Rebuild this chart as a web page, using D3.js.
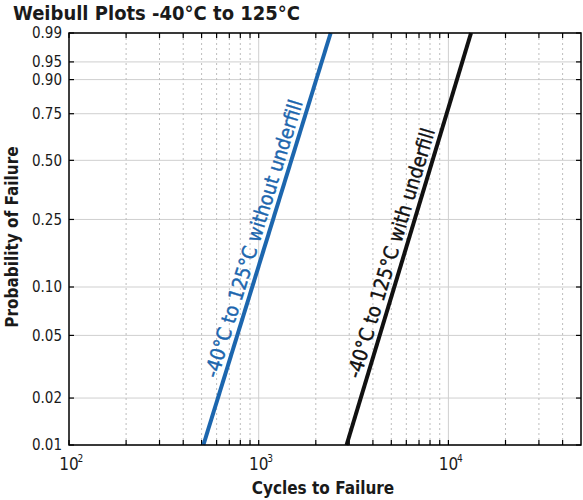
<!DOCTYPE html>
<html>
<head>
<meta charset="utf-8">
<script src="https://cdn.jsdelivr.net/npm/d3@7"></script>
<style>
  body { margin: 0; background: #fff; }
  text { font-family: 'Liberation Sans Narrow', 'DejaVu Sans Condensed', 'Roboto Condensed', sans-serif; fill: #1a1a1a; }
</style>
</head>
<body>
<div class="weibull"></div>
<script>
  // probability ticks on the weibull axis
  var probTicks = [0.01, 0.02, 0.05, 0.10, 0.25, 0.50, 0.75, 0.90, 0.95, 0.99];
  var decades = [100, 1000, 10000];
  var decadeExp = [2, 3, 4];
  var minorCycles = [200, 300, 400, 500, 600, 700, 800, 900,
                     2000, 3000, 4000, 5000, 6000, 7000, 8000, 9000,
                     20000, 30000, 40000];

  // end points: [cycles, probability]
  var withoutUnderfill = [[511, 0.01], [2395, 0.99]];
  var withUnderfill = [[2905, 0.01], [13160, 0.99]];
  var seriesLabels = ["-40°C to 125°C without underfill", "-40°C to 125°C with underfill"];
  var seriesColors = ["#1c66ae", "#111111"];

  var margin = {top: 33, right: 2, bottom: 55, left: 69};
  var width = 583 - margin.left - margin.right,
      height = 500 - margin.top - margin.bottom;

  var weib = function(p) { return Math.log(-Math.log(1 - p)); };

  var xScale = d3.scaleLog()
      .domain([100, 50000])
      .range([0, width]);

  var yLin = d3.scaleLinear()
      .domain([weib(0.01), weib(0.99)])
      .range([height, 0]);
  var yScale = function(p) { return yLin(weib(p)); };

  var svg = d3.select('.weibull')
      .append("svg")
      .attr("width", 583)
      .attr("height", 500);

  svg.append("text")
      .attr("x", 13)
      .attr("y", 20)
      .attr("font-size", 20)
      .attr("font-weight", "bold")
      .text("Weibull Plots -40°C to 125°C");

  var g = svg.append("g")
      .attr("transform", "translate(" + margin.left + "," + margin.top + ")");

  // grid
  g.selectAll('.hgrid')
      .data(probTicks)
      .enter().append('line')
      .attr('x1', 0).attr('x2', width)
      .attr('y1', yScale).attr('y2', yScale)
      .attr('stroke', '#cfcfcf').attr('stroke-width', 1);

  g.selectAll('.vminor')
      .data(minorCycles)
      .enter().append('line')
      .attr('x1', xScale).attr('x2', xScale)
      .attr('y1', 0).attr('y2', height)
      .attr('stroke', '#bdbdbd').attr('stroke-width', 1)
      .attr('stroke-dasharray', '2,3');

  g.selectAll('.vmajor')
      .data(decades.slice(1))
      .enter().append('line')
      .attr('x1', xScale).attr('x2', xScale)
      .attr('y1', 0).attr('y2', height)
      .attr('stroke', '#cfcfcf').attr('stroke-width', 1);

  // inward ticks
  var tickLen = 5;
  var allX = decades.concat(minorCycles);
  [0, height].forEach(function(yy) {
      g.selectAll(null)
          .data(allX)
          .enter().append('line')
          .attr('x1', xScale).attr('x2', xScale)
          .attr('y1', yy).attr('y2', yy === 0 ? tickLen : height - tickLen)
          .attr('stroke', '#000').attr('stroke-width', 1.2);
  });
  [0, width].forEach(function(xx) {
      g.selectAll(null)
          .data(probTicks)
          .enter().append('line')
          .attr('y1', yScale).attr('y2', yScale)
          .attr('x1', xx).attr('x2', xx === 0 ? tickLen : width - tickLen)
          .attr('stroke', '#000').attr('stroke-width', 1.2);
  });

  // y tick labels
  g.selectAll('.ylab')
      .data(probTicks)
      .enter().append('text')
      .attr('x', -7)
      .attr('y', yScale)
      .attr('dy', '0.35em')
      .attr('text-anchor', 'end')
      .attr('font-size', 15)
      .text(function(d) { return d3.format('.2f')(d); });

  // x tick labels 10^n
  var xl = g.selectAll('.xlab')
      .data(decades)
      .enter().append('g')
      .attr('transform', function(d) { return 'translate(' + xScale(d) + ',' + (height + 25) + ')'; });
  xl.append('text')
      .attr('text-anchor', 'middle')
      .attr('font-size', 17)
      .text('10');
  xl.append('text')
      .attr('x', 8.5)
      .attr('y', -8)
      .attr('font-size', 10)
      .text(function(d, i) { return decadeExp[i]; });

  // weibull lines
  var line = d3.line()
      .x(function(d) { return xScale(d[0]); })
      .y(function(d) { return yScale(d[1]); });

  var series = [withoutUnderfill, withUnderfill];
  g.selectAll('.wline')
      .data(series)
      .enter().append('path')
      .attr('d', line)
      .attr('fill', 'none')
      .attr('stroke', function(d, i) { return seriesColors[i]; })
      .attr('stroke-width', 4);

  // labels along lines
  var labelProb = [0.185, 0.152];
  series.forEach(function(s, i) {
      var x0 = xScale(s[0][0]), y0 = yScale(s[0][1]),
          x1 = xScale(s[1][0]), y1 = yScale(s[1][1]);
      var ang = Math.atan2(y1 - y0, x1 - x0) * 180 / Math.PI;
      var py = yScale(labelProb[i]);
      var px = x0 + (x1 - x0) * (py - y0) / (y1 - y0);
      g.append('text')
          .attr('transform', 'translate(' + px + ',' + py + ') rotate(' + ang + ')')
          .attr('y', -6)
          .attr('text-anchor', 'middle')
          .attr('font-size', 20)
          .style('fill', seriesColors[i])
          .style('stroke', seriesColors[i])
          .style('stroke-width', 0.4)
          .text(seriesLabels[i]);
  });

  // frame
  g.append('rect')
      .attr('width', width)
      .attr('height', height)
      .attr('fill', 'none')
      .attr('stroke', '#000')
      .attr('stroke-width', 1.5);

  // axis titles
  svg.append('text')
      .attr('x', margin.left + width / 2 - 2)
      .attr('y', 494)
      .attr('text-anchor', 'middle')
      .attr('font-size', 17)
      .attr('font-weight', 'bold')
      .text('Cycles to Failure');

  svg.append('text')
      .attr('transform', 'translate(18,' + 237 + ') rotate(-90)')
      .attr('text-anchor', 'middle')
      .attr('font-size', 17)
      .attr('font-weight', 'bold')
      .text('Probability of Failure');
</script>
</body>
</html>
